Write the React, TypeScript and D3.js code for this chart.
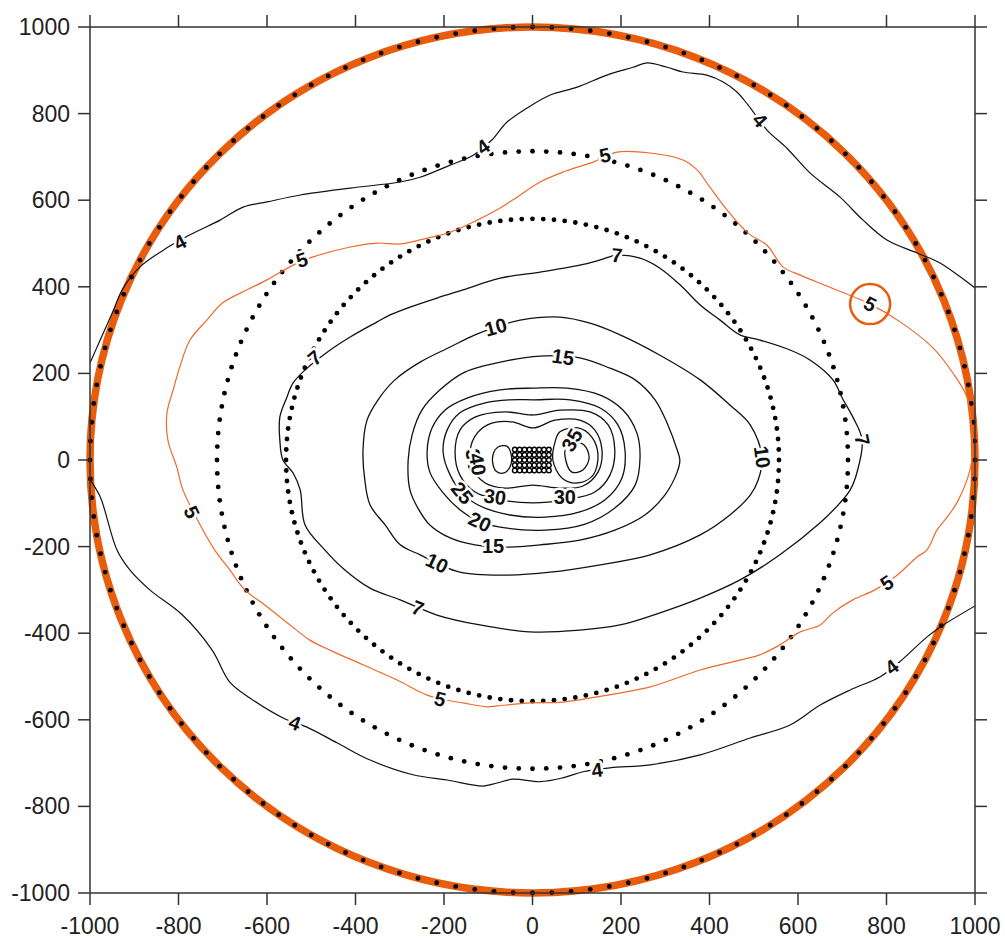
import React from 'react';
import * as d3 from 'd3';

type Pt = [number, number];

const W = 1005;
const H = 938;

const xTicks = [-1000, -800, -600, -400, -200, 0, 200, 400, 600, 800, 1000];
const yTicks = [-1000, -800, -600, -400, -200, 0, 200, 400, 600, 800, 1000];

const ringRadii = [713, 557];
const outerRadius = 1000;
const dotsPerRing = 144;

const contour4Upper: Pt[] = [
  [-1000, 224], [-977, 277], [-950, 339], [-925, 397], [-887, 446], [-826, 490], [-774, 520],
  [-706, 554], [-654, 584], [-600, 596], [-525, 612], [-412, 628], [-299, 642], [-254, 653],
  [-186, 681], [-134, 704], [-92, 739], [-58, 780], [-12, 813], [40, 843], [101, 861],
  [168, 889], [227, 907], [259, 917], [304, 907], [340, 896], [394, 889], [431, 873],
  [462, 850], [487, 820], [530, 762], [575, 720], [627, 663], [695, 607], [747, 554],
  [801, 508], [869, 478], [921, 455], [1000, 397],
];

const contour4Lower: Pt[] = [
  [-1000, -46], [-977, -85], [-939, -208], [-910, -254], [-865, -300], [-791, -358],
  [-724, -439], [-684, -513], [-638, -550], [-559, -598], [-510, -617], [-442, -653],
  [-367, -693], [-270, -727], [-193, -739], [-112, -753], [-80, -746], [-44, -737],
  [17, -743], [69, -734], [114, -720], [175, -711], [266, -704], [379, -681], [492, -642],
  [582, -612], [650, -566], [718, -531], [785, -501], [830, -466], [891, -409],
  [921, -386], [1000, -337],
];

const contour5: Pt[] = [
  [-541, 450], [-496, 469], [-412, 492], [-351, 501], [-299, 499], [-247, 510], [-186, 526],
  [-125, 554], [-73, 582], [-35, 607], [17, 642], [69, 665], [137, 688], [191, 711],
  [266, 709], [340, 693], [372, 670], [401, 630], [440, 577], [487, 524], [530, 496],
  [566, 446], [605, 427], [672, 399], [763, 360], [831, 319], [905, 259], [950, 201],
  [982, 145], [993, 69], [993, 0], [982, -46], [959, -99], [937, -132], [914, -162],
  [891, -208], [869, -224], [824, -266], [774, -300], [724, -323], [679, -353],
  [650, -381], [605, -397], [559, -427], [514, -450], [469, -462], [379, -485],
  [266, -524], [146, -547], [69, -559], [-6, -561], [-80, -568], [-103, -570],
  [-157, -561], [-186, -556], [-238, -543], [-306, -508], [-383, -473], [-458, -439],
  [-503, -416], [-548, -381], [-605, -335], [-650, -300], [-684, -254], [-718, -208],
  [-751, -150], [-790, -69], [-804, -16], [-824, 46], [-826, 109], [-812, 162],
  [-797, 215], [-774, 277], [-736, 323], [-700, 363], [-645, 393], [-600, 416],
];

const contour7: Pt[] = [
  [-464, 249], [-514, 208], [-541, 178], [-555, 145], [-571, 99], [-571, 46], [-564, 0],
  [-541, -30], [-525, -69], [-514, -150], [-469, -208], [-424, -254], [-367, -296],
  [-299, -323], [-216, -358], [-119, -381], [-6, -397], [107, -393], [198, -381],
  [288, -353], [379, -319], [469, -277], [559, -219], [650, -145], [695, -99],
  [718, -69], [733, -30], [745, 46], [724, 99], [702, 139], [679, 185], [627, 231],
  [582, 254], [514, 277], [469, 289], [424, 323], [379, 358], [334, 404], [288, 443],
  [243, 466], [191, 473], [153, 462], [107, 450], [17, 434], [-73, 420], [-157, 393],
  [-216, 374], [-277, 353], [-322, 335], [-351, 319], [-412, 284],
];

const contour10: Pt[] = [
  [-83, 307], [-28, 323], [62, 330], [130, 316], [198, 289], [288, 242], [379, 185],
  [446, 127], [492, 81], [519, 7], [510, -46], [492, -81], [446, -127], [379, -173],
  [266, -219], [153, -242], [40, -259], [-73, -266], [-164, -259], [-216, -238],
  [-254, -219], [-299, -196], [-333, -150], [-367, -104], [-379, -46], [-383, 23],
  [-374, 92], [-349, 139], [-311, 185], [-254, 226], [-186, 261], [-130, 289],
];

const contour15: Pt[] = [
  [17, 240], [107, 236], [175, 212], [232, 185], [277, 139], [306, 81], [327, 23],
  [333, 0], [327, -28], [299, -81], [254, -127], [186, -162], [107, -185], [17, -196],
  [-51, -201], [-130, -196], [-186, -180], [-232, -150], [-259, -111], [-277, -69],
  [-281, 0], [-272, 58], [-250, 115], [-209, 162], [-153, 203], [-73, 226],
];

const contour20: Pt[] = [
  [1, 166], [78, 166], [153, 150], [205, 115], [236, 62], [243, 5], [232, -58],
  [186, -111], [119, -148], [28, -162], [-62, -157], [-119, -143], [-164, -115],
  [-202, -76], [-232, -28], [-238, 23], [-227, 74], [-198, 115], [-148, 143], [-73, 162],
];

const contour25: Pt[] = [
  [1, 139], [85, 139], [153, 120], [193, 81], [209, 23], [202, -42], [164, -92],
  [107, -120], [28, -132], [-51, -127], [-123, -104], [-159, -76], [-186, -35],
  [-202, 18], [-193, 69], [-164, 109], [-107, 132], [-51, 139],
];

const contour30: Pt[] = [
  [1, 104], [62, 115], [130, 111], [171, 81], [186, 23], [175, -35], [141, -74],
  [73, -92], [1, -99], [-73, -92], [-130, -74], [-164, -35], [-175, 18], [-164, 69],
  [-130, 99], [-62, 111],
];

const contour35: Pt[] = [
  [1, 74], [51, 92], [107, 92], [141, 69], [157, 23], [148, -28], [114, -60], [62, -65],
  [1, -58], [-62, -65], [-107, -53], [-137, -18], [-141, 23], [-125, 62], [-92, 85], [-46, 88],
];

const contour40Right: Pt[] = [
  [62, 65], [103, 74], [134, 53], [148, 12], [137, -35], [103, -53], [67, -42], [46, 0], [51, 42],
];

const contour45Right: Pt[] = [
  [89, 42], [116, 35], [128, 5], [114, -23], [89, -28], [75, 0], [75, 28],
];

const contour40Left: Pt[] = [
  [-78, 30], [-58, 32], [-48, 12], [-50, -14], [-64, -30], [-82, -26], [-90, -6], [-88, 16],
];

const blackOpen: Pt[][] = [contour4Upper, contour4Lower];
const blackClosed: Pt[][] = [
  contour7, contour10, contour15, contour20, contour25, contour30, contour35,
  contour40Right, contour45Right, contour40Left,
];
const orangeClosed: Pt[][] = [contour5];

const labelText = ['4', '4', '4', '4', '4', '4', '5', '5', '5', '5', '5', '5', '7', '7', '7', '7',
  '10', '10', '10', '15', '15', '20', '25', '30', '30', '35', '35', '40'];
const labelX = [-797, -112, 514, -537, 146, 812, -521, 164, 763, 801, -209, -770, -492, 191, 745, -259,
  -83, 519, -216, 69, -89, -119, -159, -85, 73, 89, -132, -124];
const labelY = [503, 723, 785, -607, -716, -478, 462, 704, 360, -284, -552, -120, 236, 473, 46, -342,
  307, 7, -238, 238, -199, -143, -76, -85, -85, 46, 0, -10];
const labelAngle = [-28, -35, 48, 20, -8, -37, -18, -12, 27, -33, 14, 65, -40, 5, 78, 22,
  -15, 82, 25, 8, 0, 25, 50, 8, 0, -60, 80, 80];
const circledLabelIndex = 8;

const gridX = [-40, -29, -18, -7, 4, 15, 26, 37];
const gridY = [-24, -12, 0, 12, 24];

const ORANGE = '#e85c0d';
const ORANGE_LINE = '#ef6a2c';
const AXIS = '#333333';

export default function App() {
  const x = d3.scaleLinear().domain([-1000, 1000]).range([90, 975]);
  const y = d3.scaleLinear().domain([-1000, 1000]).range([893, 27]);

  const openLine = d3.line<Pt>().x((d) => x(d[0])).y((d) => y(d[1])).curve(d3.curveCatmullRom.alpha(0.5));
  const closedLine = d3.line<Pt>().x((d) => x(d[0])).y((d) => y(d[1])).curve(d3.curveCatmullRomClosed.alpha(0.5));

  const cx = x(0);
  const cy = y(0);
  const dotAngles = d3.range(dotsPerRing).map((i) => (i * 2 * Math.PI) / dotsPerRing);

  const allRings = [outerRadius, ...ringRadii];

  return (
    <svg width={W} height={H} style={{ position: 'absolute', left: 0, top: 0, background: '#fff' }}
      fontFamily="'Liberation Sans', Arial, sans-serif">
      <defs>
        <clipPath id="plotClip">
          <rect x={x(-1000)} y={y(1000)} width={x(1000) - x(-1000)} height={y(-1000) - y(1000)} />
        </clipPath>
      </defs>
      <rect x={0} y={0} width={W} height={H} fill="#fff" />

      {/* outer orange circle */}
      <ellipse cx={cx} cy={cy} rx={x(outerRadius) - cx} ry={cy - y(outerRadius)}
        fill="none" stroke={ORANGE} strokeWidth={7.5} />

      {/* dotted rings */}
      {allRings.map((r, ri) => (
        <g key={`ring${ri}`}>
          {dotAngles.map((a, i) => (
            <circle key={i} cx={x(r * Math.cos(a))} cy={y(r * Math.sin(a))} r={2.4} fill="#000" />
          ))}
        </g>
      ))}

      <g clipPath="url(#plotClip)" fill="none" strokeLinejoin="round" strokeLinecap="round">
        {blackOpen.map((c, i) => (
          <path key={`bo${i}`} d={openLine(c) || ''} stroke="#111" strokeWidth={1.2} />
        ))}
        {blackClosed.map((c, i) => (
          <path key={`bc${i}`} d={closedLine(c) || ''} stroke="#111" strokeWidth={1.3} />
        ))}
        {orangeClosed.map((c, i) => (
          <path key={`oc${i}`} d={closedLine(c) || ''} stroke={ORANGE_LINE} strokeWidth={1.2} />
        ))}
      </g>

      {/* center grid */}
      <g fill="none" stroke="#000" strokeWidth={1.4}>
        {gridY.map((gy) => gridX.map((gx) => (
          <circle key={`${gx}_${gy}`} cx={x(gx)} cy={y(gy)} r={2.3} />
        )))}
      </g>

      {/* contour labels */}
      {labelText.map((t, i) => (
        <text key={`lab${i}`}
          transform={`translate(${x(labelX[i])},${y(labelY[i])}) rotate(${labelAngle[i]})`}
          textAnchor="middle" dominantBaseline="central" fontWeight="bold" fontSize={20}
          fill="#111" stroke="#fff" strokeWidth={5} paintOrder="stroke" strokeLinejoin="round">
          {t}
        </text>
      ))}
      <circle cx={x(labelX[circledLabelIndex])} cy={y(labelY[circledLabelIndex])} r={20}
        fill="none" stroke={ORANGE} strokeWidth={2.5} />

      {/* frame and ticks */}
      <rect x={x(-1000)} y={y(1000)} width={x(1000) - x(-1000)} height={y(-1000) - y(1000)}
        fill="none" stroke={AXIS} strokeWidth={1.5} />
      {xTicks.map((t) => (
        <g key={`xt${t}`}>
          <line x1={x(t)} x2={x(t)} y1={y(-1000)} y2={y(-1000) + 12} stroke={AXIS} strokeWidth={1.5} />
          <line x1={x(t)} x2={x(t)} y1={y(1000)} y2={y(1000) - 12} stroke={AXIS} strokeWidth={1.5} />
          <text x={x(t)} y={934} textAnchor="middle" fontSize={23} fill="#222">{t}</text>
        </g>
      ))}
      {yTicks.map((t) => (
        <g key={`yt${t}`}>
          <line x1={x(-1000) - 12} x2={x(-1000)} y1={y(t)} y2={y(t)} stroke={AXIS} strokeWidth={1.5} />
          <line x1={x(1000)} x2={x(1000) + 12} y1={y(t)} y2={y(t)} stroke={AXIS} strokeWidth={1.5} />
          <text x={70} y={y(t) + 8} textAnchor="end" fontSize={23} fill="#222">{t}</text>
        </g>
      ))}
    </svg>
  );
}
